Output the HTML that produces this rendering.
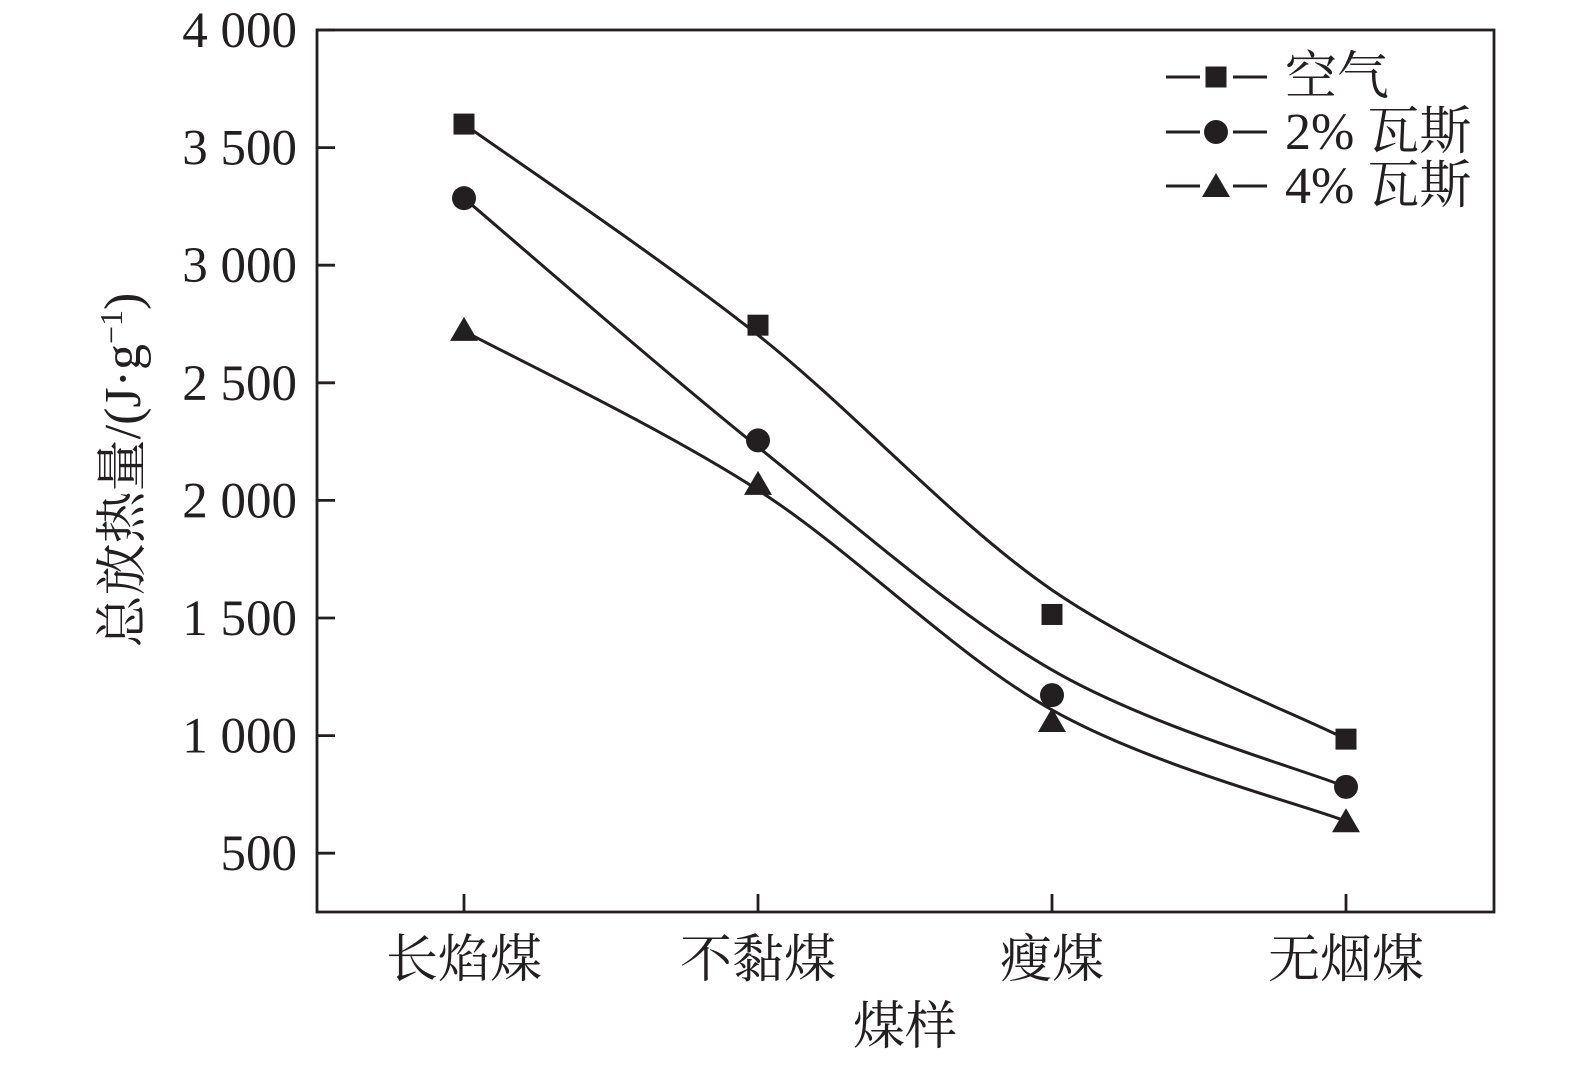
<!DOCTYPE html>
<html><head><meta charset="utf-8"><style>
html,body{margin:0;padding:0;background:#fff}
svg text{font-family:"Liberation Serif","Noto Serif CJK SC",serif;fill:#231f20}
</style></head><body>
<svg id="chart" width="1575" height="1061" viewBox="0 0 1575 1061" xmlns="http://www.w3.org/2000/svg">
<rect x="317" y="30" width="1177" height="882" fill="none" stroke="#231f20" stroke-width="2.8"/>
<g id="axes"></g>
<g id="series"></g>
<g id="legend"></g>
<text x="905" y="1044" font-size="52" text-anchor="middle">煤样</text>
<text transform="translate(140,470) rotate(-90)" font-size="52" text-anchor="middle">总放热量/(J·g<tspan dy="-18" font-size="32">−1</tspan><tspan dy="18">)</tspan></text>
</svg>
<script>
const categories=["长焰煤","不黏煤","瘦煤","无烟煤"];
const yTicks=[500,1000,1500,2000,2500,3000,3500,4000];
const yTickLabels=["500","1 000","1 500","2 000","2 500","3 000","3 500","4 000"];
const airValues=[3600,2745,1515,985];
const gas2Values=[3285,2255,1172,782];
const gas4Values=[2725,2070,1062,636];
const airFit=[3600,2703,1619,985];
const gas2Fit=[3285,2227,1279,782];
const gas4Fit=[2720,2044,1109,636];
const seriesNames=["空气","2% 瓦斯","4% 瓦斯"];

const NS="http://www.w3.org/2000/svg";
const X0=317,X1=1494,Y0=912,Y1=30,VMIN=250,VMAX=4000;
function xPos(i){return 464+i*294;}
function yPos(v){return Y0-(v-VMIN)/(VMAX-VMIN)*(Y0-Y1);}
function mk(tag,attrs,parent){const e=document.createElementNS(NS,tag);for(const k in attrs)e.setAttribute(k,attrs[k]);parent.appendChild(e);return e;}
const axes=document.getElementById('axes');
yTicks.forEach((v,i)=>{
  const t=mk('line',{x1:X0,x2:X0+18,y1:yPos(v),y2:yPos(v),stroke:'#231f20','stroke-width':2.8},axes);
  
  
  const l=mk('text',{x:297,y:yPos(v)+17,'font-size':51,'text-anchor':'end'},axes);
  l.textContent=yTickLabels[i];
  
  
});
categories.forEach((c,i)=>{
  const t=mk('line',{x1:xPos(i),x2:xPos(i),y1:Y0,y2:Y0-18,stroke:'#231f20','stroke-width':2.8},axes);
  
  
  const l=mk('text',{x:xPos(i),y:977,'font-size':52,'text-anchor':'middle'},axes);
  l.textContent=c;
  
  
});
function curve(vals){
  const p=vals.map((v,i)=>[xPos(i),yPos(v)]);
  let d=`M${p[0][0]},${p[0][1]}`;
  for(let i=0;i<p.length-1;i++){
    const a=p[Math.max(0,i-1)],b=p[i],c=p[i+1],e=p[Math.min(p.length-1,i+2)];
    const c1=[b[0]+(c[0]-a[0])/6,b[1]+(c[1]-a[1])/6],c2=[c[0]-(e[0]-b[0])/6,c[1]-(e[1]-b[1])/6];
    d+=` C${c1[0]},${c1[1]} ${c2[0]},${c2[1]} ${c[0]},${c[1]}`;
  }
  return d;
}
function marker(type,x,y,parent){
  let m;
  if(type==0)m=mk('rect',{x:x-10.5,y:y-10.5,width:21,height:21,fill:'#231f20'},parent);
  else if(type==1)m=mk('circle',{cx:x,cy:y,r:12,fill:'#231f20'},parent);
  else m=mk('polygon',{points:`${x},${y-13} ${x-14},${y+11} ${x+14},${y+11}`,fill:'#231f20'},parent);
  return m;
}
const ser=document.getElementById('series');
[[airValues,airFit,'air'],[gas2Values,gas2Fit,'gas-2pct'],[gas4Values,gas4Fit,'gas-4pct']].forEach((s,k)=>{
  const path=mk('path',{d:curve(s[1]),fill:'none',stroke:'#231f20','stroke-width':3},ser);
  
  
  s[0].forEach((v,i)=>{
    const m=marker(k,xPos(i),yPos(v),ser);
    
    
  });
});
const leg=document.getElementById('legend');
[77,132,186].forEach((y,k)=>{
  const a=mk('line',{x1:1166,x2:1200,y1:y,y2:y,stroke:'#231f20','stroke-width':3},leg);
  
  
  const b=mk('line',{x1:1233,x2:1267,y1:y,y2:y,stroke:'#231f20','stroke-width':3},leg);
  
  
  const m=marker(k,1216,y,leg);
  
  
  const t=mk('text',{x:1285,y:y+17,'font-size':52},leg);
  t.textContent=seriesNames[k];
  
  
});
</script>
</body></html>
